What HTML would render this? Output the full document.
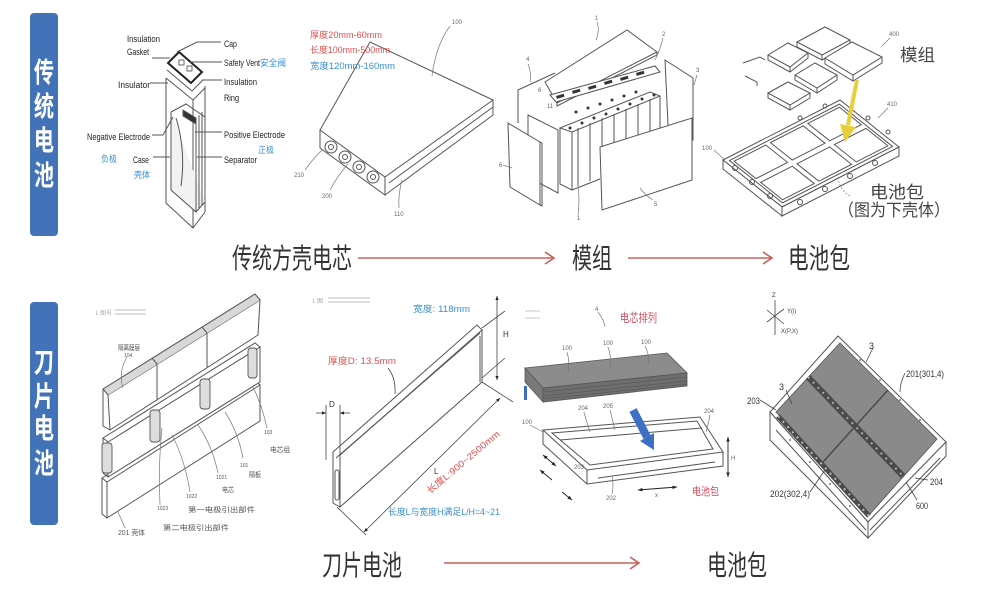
<!DOCTYPE html>
<html><head><meta charset="utf-8"><style>
html,body{margin:0;padding:0;background:#fff;width:985px;height:596px;overflow:hidden}
svg{display:block}
text{font-family:"Liberation Sans","Noto Sans CJK SC",sans-serif}
.ln{fill:none;stroke:#555;stroke-width:1}
.lt{fill:none;stroke:#777;stroke-width:0.7}
.s{font-size:6px;fill:#666}
.lab{font-size:9px;fill:#222}
.nss{vector-effect:non-scaling-stroke}
</style></head><body>
<svg width="985" height="596" viewBox="0 0 985 596" xmlns="http://www.w3.org/2000/svg">
<defs>
<marker id="a" viewBox="0 0 10 10" refX="10" refY="5" markerWidth="5" markerHeight="5" orient="auto-start-reverse"><path d="M0,1 L10,5 L0,9 z" fill="#222"/></marker>
</defs>
<rect width="985" height="596" fill="#fff"/>

<!-- Side labels -->
<rect x="30" y="13" width="28" height="223" rx="4" fill="#4272b8"/>
<g transform="translate(44,0) scale(0.72,1)" fill="#fff" font-size="28" font-weight="bold" text-anchor="middle">
<text x="0" y="82">传</text><text x="0" y="116">统</text><text x="0" y="150">电</text><text x="0" y="185">池</text>
</g>
<rect x="30" y="302" width="28" height="223" rx="4" fill="#4272b8"/>
<g transform="translate(44,0) scale(0.72,1)" fill="#fff" font-size="28" font-weight="bold" text-anchor="middle">
<text x="0" y="372">刀</text><text x="0" y="406">片</text><text x="0" y="438">电</text><text x="0" y="473">池</text>
</g>

<!-- Captions -->
<g font-size="28" fill="#333">
<text x="232" y="268" textLength="120" lengthAdjust="spacingAndGlyphs">传统方壳电芯</text>
<text x="572" y="268" textLength="40" lengthAdjust="spacingAndGlyphs">模组</text>
<text x="788" y="268" textLength="62" lengthAdjust="spacingAndGlyphs">电池包</text>
<text x="322" y="575" textLength="80" lengthAdjust="spacingAndGlyphs">刀片电池</text>
<text x="707" y="575" textLength="60" lengthAdjust="spacingAndGlyphs">电池包</text>
</g>
<g stroke="#c9605c" stroke-width="1.6" fill="none">
<path d="M358,258 L553,258 M545,252 L554,258 L545,264"/>
<path d="M628,258 L771,258 M763,252 L772,258 L763,264"/>
<path d="M444,563 L638,563 M630,557 L639,563 L630,569"/>
</g>

<!-- Drawing 1: prismatic cell exploded -->
<g class="ln">
<path d="M166,78 L166,203 L193,228 L205,212 L205,86" fill="#fff"/>
<path d="M193,100 L193,228"/>
<path d="M166,78 L193,100 L205,88"/>
<path d="M167,70 L192,91 L203,80"/>
<path d="M171,112 L171,190 L196,212 L205,202" fill="#f2f2f2"/>
<path d="M171,112 L186,104 L205,117"/>
<path d="M196,118 L196,212 M199,115 L199,208 M202,112 L202,205"/>
<path d="M176,118 Q186,150 181,186"/>
<path d="M183,110 L196,118 L196,124 L183,116 Z" fill="#333"/>
</g>
<polygon points="168,63 179,52 202,72 191,83" fill="#fff" stroke="#222" stroke-width="2"/>
<rect x="179" y="60" width="5" height="5" fill="none" stroke="#444" stroke-width="0.8"/>
<rect x="187" y="66" width="5" height="5" fill="none" stroke="#444" stroke-width="0.8"/>
<g class="ln" stroke="#333">
<path d="M152,58 L170,58"/>
<path d="M177,52 L197,42 L221,42"/>
<path d="M190,62 L222,62"/>
<path d="M202,80 L222,80"/>
<path d="M150,83 L168,83"/>
<path d="M152,135 L163,135 L173,117"/>
<path d="M153,157 L170,157"/>
<path d="M195,132 L222,132"/>
<path d="M197,157 L222,157"/>
</g>
<g class="lab">
<text x="127" y="42" textLength="33" lengthAdjust="spacingAndGlyphs">Insulation</text>
<text x="127" y="55" textLength="22" lengthAdjust="spacingAndGlyphs">Gasket</text>
<text x="224" y="47" textLength="13" lengthAdjust="spacingAndGlyphs">Cap</text>
<text x="224" y="66" textLength="36" lengthAdjust="spacingAndGlyphs">Safety Vent</text>
<text x="224" y="85" textLength="33" lengthAdjust="spacingAndGlyphs">Insulation</text>
<text x="224" y="101" textLength="15" lengthAdjust="spacingAndGlyphs">Ring</text>
<text x="118" y="88" textLength="32" lengthAdjust="spacingAndGlyphs">Insulator</text>
<text x="87" y="140" textLength="63" lengthAdjust="spacingAndGlyphs">Negative Electrode</text>
<text x="133" y="163" textLength="16" lengthAdjust="spacingAndGlyphs">Case</text>
<text x="224" y="138" textLength="61" lengthAdjust="spacingAndGlyphs">Positive Electrode</text>
<text x="224" y="163" textLength="33" lengthAdjust="spacingAndGlyphs">Separator</text>
</g>
<g font-size="9" fill="#3a8fd0">
<text x="260" y="66" textLength="26" lengthAdjust="spacingAndGlyphs">安全阀</text>
<text x="101" y="162" textLength="16" lengthAdjust="spacingAndGlyphs">负极</text>
<text x="134" y="178" textLength="16" lengthAdjust="spacingAndGlyphs">壳体</text>
<text x="258" y="153" textLength="16" lengthAdjust="spacingAndGlyphs">正极</text>
</g>

<!-- Drawing 2: prismatic cell 3D -->
<g class="ln">
<path d="M320,130 L370,42 L493,100 L385,177 Z" fill="#fff"/>
<path d="M320,130 L320,148 L385,195 L385,177"/>
<path d="M385,195 L493,115 L493,100"/>
<path d="M389,183 L493,107"/>
<circle cx="331" cy="147" r="6"/><circle cx="345" cy="157" r="6"/><circle cx="359" cy="167" r="6"/><circle cx="373" cy="177" r="6"/>
<circle cx="331" cy="147" r="2.5"/><circle cx="345" cy="157" r="2.5"/><circle cx="359" cy="167" r="2.5"/><circle cx="373" cy="177" r="2.5"/>
</g>
<g class="lt">
<path d="M450,26 Q436,45 432,76"/>
<path d="M305,170 Q312,160 322,150"/>
<path d="M330,190 Q338,175 348,164"/>
<path d="M399,208 Q398,195 402,180"/>
</g>
<g class="s">
<text x="452" y="24">100</text><text x="294" y="177">210</text><text x="322" y="198">200</text><text x="394" y="216">110</text>
</g>
<g font-size="9">
<text x="310" y="38" fill="#e05050" textLength="72" lengthAdjust="spacingAndGlyphs">厚度20mm-60mm</text>
<text x="310" y="53" fill="#e05050" textLength="80" lengthAdjust="spacingAndGlyphs">长度100mm-500mm</text>
<text x="310" y="69" fill="#3a8fd0" textLength="85" lengthAdjust="spacingAndGlyphs">宽度120mm-160mm</text>
</g>

<!-- Drawing 3: module exploded -->
<g class="ln">
<!-- back left plate -->
<path d="M518,90 L555,73 M518,90 L518,123"/>
<!-- right back plate -->
<path d="M665,60 L693,78 L693,140 L668,125 Z" fill="#fff"/>
<!-- top plate -->
<path d="M545,82 L627,30 L657,52 L557,103 Z" fill="#fff"/>
<path d="M557,103 L557,106 L657,55 L657,52"/>
<!-- bus bar row -->
<path d="M550,95 L655,66 L660,72 L556,102 Z" fill="#fff"/>
<!-- cells -->
<path d="M560,128 L572,132 L660,96 L650,92 Z" fill="#fff"/>
<path d="M560,128 L560,184 L572,190"/>
<path d="M572,132 L572,190 L600,179"/>
<path d="M578,128 L578,186 M590,123 L590,181 M602,118 L602,146 M614,114 L614,143 M626,109 L626,139 M638,104 L638,135 M650,99 L650,131 M660,96 L660,128"/>
</g>
<g fill="#333">
<rect x="556" y="96" width="8" height="3" transform="rotate(-16 556 96)"/>
<rect x="572" y="91" width="8" height="3" transform="rotate(-16 572 91)"/>
<rect x="588" y="87" width="8" height="3" transform="rotate(-16 588 87)"/>
<rect x="604" y="82" width="8" height="3" transform="rotate(-16 604 82)"/>
<rect x="620" y="78" width="8" height="3" transform="rotate(-16 620 78)"/>
<rect x="636" y="73" width="8" height="3" transform="rotate(-16 636 73)"/>
<circle cx="570" cy="128" r="1.5"/><circle cx="582" cy="123" r="1.5"/><circle cx="594" cy="118" r="1.5"/><circle cx="606" cy="114" r="1.5"/><circle cx="618" cy="109" r="1.5"/><circle cx="630" cy="104" r="1.5"/><circle cx="642" cy="99" r="1.5"/><circle cx="654" cy="95" r="1.5"/>
<circle cx="576" cy="112" r="1.5"/><circle cx="588" cy="108" r="1.5"/><circle cx="600" cy="104" r="1.5"/><circle cx="612" cy="100" r="1.5"/><circle cx="624" cy="96" r="1.5"/><circle cx="636" cy="92" r="1.5"/>
</g>
<g class="ln">
<!-- left end plates -->
<path d="M528,115 L558,130 L558,193 L528,177 Z" fill="#fff"/>
<path d="M508,123 L540,142 L540,205 L510,187 Z" fill="#fff"/>
<path d="M540,142 L542,143 L542,206 L540,205"/>
<!-- front side plate -->
<path d="M600,147 L692,118 L692,180 L602,210 Z" fill="#fff"/>
</g>
<g class="lt">
<path d="M597,22 Q600,30 596,40"/><path d="M663,38 Q660,50 655,60"/><path d="M528,64 Q532,75 530,82"/>
<path d="M503,165 L512,168"/><path d="M653,200 Q645,195 640,188"/><path d="M578,215 Q580,200 578,185"/><path d="M697,75 L694,85"/>
</g>
<g class="s">
<text x="595" y="20">1</text><text x="662" y="36">2</text><text x="696" y="72">3</text><text x="526" y="61">4</text>
<text x="499" y="167">6</text><text x="654" y="206">5</text><text x="577" y="220">1</text><text x="547" y="108">11</text><text x="538" y="92">6</text>
</g>

<!-- Drawing 4: pack with modules -->
<g class="ln">
<path d="M743,63 L760,57 L765,60 M745,76 L757,82 L757,86"/>
<path d="M797,42 L825,27 L850,40 L822,55 Z" fill="#fff"/><path d="M797,42 L797,47 L822,60 L850,45 L850,40 M822,55 L822,60"/>
<path d="M825,58 L852,42 L882,57 L853,75 Z" fill="#fff"/><path d="M825,58 L825,64 L853,81 L882,63 L882,57 M853,75 L853,81"/>
<path d="M768,55 L788,43 L808,53 L790,67 Z" fill="#fff"/><path d="M768,55 L768,60 L790,72 L808,58 L808,53 M790,67 L790,72"/>
<path d="M795,75 L815,63 L837,75 L817,88 Z" fill="#fff"/><path d="M795,75 L795,80 L817,93 L837,80 L837,75 M817,88 L817,93"/>
<path d="M768,93 L788,82 L810,93 L790,105 Z" fill="#fff"/><path d="M768,93 L768,98 L790,110 L810,98 L810,93 M790,105 L790,110"/>
</g>
<g transform="matrix(117,-60,59,47,723,160)" fill="#fff" stroke="#555" stroke-width="1">
<rect class="nss" x="0" y="0" width="1" height="1"/>
<rect class="nss" x="0.03" y="0.05" width="0.94" height="0.9"/>
<rect class="nss" x="0.05" y="0.09" width="0.27" height="0.37"/>
<rect class="nss" x="0.36" y="0.09" width="0.28" height="0.37"/>
<rect class="nss" x="0.68" y="0.09" width="0.27" height="0.37"/>
<rect class="nss" x="0.05" y="0.54" width="0.27" height="0.37"/>
<rect class="nss" x="0.36" y="0.54" width="0.28" height="0.37"/>
<rect class="nss" x="0.68" y="0.54" width="0.27" height="0.37"/>
</g>
<g class="ln">
<path d="M723,160 L782,207 L782,216 L723,169 Z" fill="#fff"/>
<path d="M782,207 L899,147 L899,156 L782,216 Z" fill="#fff"/>
<circle cx="735" cy="168" r="2.5"/><circle cx="752" cy="182" r="2.5"/><circle cx="770" cy="196" r="2.5"/>
<circle cx="800" cy="202" r="2.5"/><circle cx="825" cy="189" r="2.5"/><circle cx="850" cy="176" r="2.5"/><circle cx="875" cy="163" r="2.5"/>
<circle cx="800" cy="118" r="2" /><circle cx="825" cy="106" r="2"/><circle cx="868" cy="118" r="2"/><circle cx="888" cy="132" r="2"/>
</g>
<path d="M857,80 L848,125" stroke="#e6cf3a" stroke-width="4"/>
<polygon points="856,127 840,124 845,142" fill="#e6cf3a"/>
<g class="lt"><path d="M882,46 L890,38"/><path d="M878,118 L888,108"/><path d="M714,150 L725,160"/><path d="M850,196 Q840,190 838,178" stroke-dasharray="2 1.5"/></g>
<g class="s"><text x="889" y="36">400</text><text x="887" y="106">410</text><text x="702" y="150">100</text></g>
<g font-size="17" fill="#444">
<text x="900" y="61" textLength="35" lengthAdjust="spacingAndGlyphs">模组</text>
<text x="870" y="198" textLength="54" lengthAdjust="spacingAndGlyphs">电池包</text>
<text x="838" y="216" textLength="112" lengthAdjust="spacingAndGlyphs">（图为下壳体）</text>
</g>

<!-- Drawing 5: blade stack -->
<g fill="#aaa" font-size="6"><text x="95" y="315">1 图号</text></g>
<path d="M115,310 L146,310 M115,314 L146,314" stroke="#bbb" stroke-width="1"/>
<g class="ln">
<!-- bottom blade -->
<path d="M107,482 L260,385 L260,421 L107,518 Z" fill="#fff"/>
<path d="M107,482 L102,478 L255,381 L260,385"/>
<path d="M102,478 L102,514 L107,518"/>
<!-- middle blade -->
<path d="M108,442 L260,347 L260,382 L108,477 Z" fill="#fff"/>
<path d="M108,442 L103,438 L255,343 L260,347"/>
<path d="M103,438 L103,473 L108,477"/>
<!-- top blade -->
<path d="M108,395 L260,300 L258,335 L110,430 Z" fill="#fff"/>
<path d="M108,395 L103,389 L255,294 L260,300" fill="#d8d8d8"/>
<path d="M103,389 L103,426 L110,430"/>
<path d="M157,364 L157,399 M207,333 L207,367"/>
<path d="M157,364 L152,358 M207,333 L202,327"/>
</g>
<g fill="#ddd" stroke="#555" stroke-width="0.9">
<rect x="102" y="443" width="10" height="30" rx="3"/>
<rect x="150" y="410" width="10" height="32" rx="3"/>
<rect x="200" y="379" width="10" height="30" rx="3"/>
<rect x="248" y="348" width="9" height="30" rx="3"/>
</g>
<g class="lt">
<path d="M127,357 Q118,372 123,388"/>
<path d="M267,428 Q262,405 253,387"/>
<path d="M243,458 Q238,432 225,412"/>
<path d="M218,473 Q212,445 198,425"/>
<path d="M190,492 Q185,460 172,435"/>
<path d="M160,505 Q158,465 162,428"/>
<path d="M125,528 L118,512"/>
</g>
<g font-size="7" fill="#555">
<text x="118" y="350" textLength="22" lengthAdjust="spacingAndGlyphs">隔离膜层</text>
<text x="124" y="357" font-size="5">104</text>
<text x="264" y="434" font-size="5">103</text>
<text x="270" y="452" textLength="20" lengthAdjust="spacingAndGlyphs">电芯组</text>
<text x="240" y="467" font-size="5">101</text>
<text x="249" y="477" textLength="12" lengthAdjust="spacingAndGlyphs">隔板</text>
<text x="216" y="479" font-size="5">1021</text>
<text x="222" y="492" textLength="12" lengthAdjust="spacingAndGlyphs">电芯</text>
<text x="186" y="498" font-size="5">1022</text>
<text x="188" y="512" textLength="67" lengthAdjust="spacingAndGlyphs">第一电极引出部件</text>
<text x="157" y="510" font-size="5">1023</text>
<text x="163" y="530" textLength="66" lengthAdjust="spacingAndGlyphs">第二电极引出部件</text>
<text x="118" y="535" textLength="27" lengthAdjust="spacingAndGlyphs">201 壳体</text>
</g>

<!-- Drawing 6: single blade dims -->
<g fill="#aaa" font-size="6"><text x="312" y="303">1 图</text></g>
<path d="M328,298 L370,298 M328,302 L370,302" stroke="#bbb" stroke-width="1"/>
<g class="ln">
<path d="M340,455 L482,330 L482,382 L340,507 Z" fill="#fff"/>
<path d="M333,452 L477,325 L482,330"/>
<path d="M336,458 L480,333"/>
<path d="M333,452 L333,503 L340,507"/>
<rect x="335" y="470" width="4" height="30" rx="2"/>
<path d="M480,336 L480,382"/>
</g>
<g stroke="#444" stroke-width="0.8" fill="none">
<path d="M497,296 L497,380" marker-start="url(#a)" marker-end="url(#a)"/>
<path d="M482,328 L505,311 M482,378 L505,358"/>
<path d="M316,413 L326,413" marker-end="url(#a)"/><path d="M350,413 L340,413" marker-end="url(#a)"/>
<path d="M326,405 L326,460 M340,405 L340,455"/>
<path d="M364,532 L500,398" marker-start="url(#a)" marker-end="url(#a)"/>
<path d="M337,507 L366,535 M482,382 L513,402"/>
<path d="M388,368 Q396,378 395,394"/>
</g>
<g font-size="8" fill="#333"><text x="503" y="337">H</text><text x="329" y="407">D</text><text x="434" y="474">L</text></g>
<g font-size="9">
<text x="328" y="364" fill="#e05050" textLength="68" lengthAdjust="spacingAndGlyphs">厚度D: 13.5mm</text>
<text x="413" y="312" fill="#3a8fd0" textLength="57" lengthAdjust="spacingAndGlyphs">宽度: 118mm</text>
<text x="430" y="494" fill="#e05050" transform="rotate(-40 430 494)" textLength="92" lengthAdjust="spacingAndGlyphs">长度L:900~2500mm</text>
<text x="388" y="515" fill="#3a8fd0" textLength="112" lengthAdjust="spacingAndGlyphs">长度L与宽度H满足L/H=4~21</text>
</g>

<!-- Drawing 7: blade pack exploded -->
<g fill="#bbb" font-size="5"><text x="525" y="313">=====</text><text x="525" y="320">=====</text></g>
<text x="620" y="322" font-size="12" fill="#d05060" textLength="37" lengthAdjust="spacingAndGlyphs">电芯排列</text>
<path d="M598,312 Q604,320 605,327" class="lt"/>
<text x="595" y="311" class="s">4</text>
<polygon points="525,368 667,353 687,373 543,388" fill="#8c8c8c" stroke="#555" stroke-width="0.8"/>
<polygon points="543,388 687,373 687,386 543,402" fill="#6e6e6e" stroke="#555" stroke-width="0.8"/>
<polygon points="525,368 543,388 543,402 525,382" fill="#7a7a7a" stroke="#555" stroke-width="0.8"/>
<path d="M543,392 L687,377 M543,396 L687,381 M543,399 L687,384" stroke="#555" stroke-width="0.6"/>
<g class="lt"><path d="M567,352 Q570,362 568,372"/><path d="M608,347 Q612,358 610,368"/><path d="M645,346 Q650,356 648,364"/></g>
<g class="s"><text x="562" y="350">100</text><text x="603" y="345">100</text><text x="641" y="344">100</text></g>
<rect x="524" y="386" width="3" height="14" fill="#3d6fc6"/>
<g class="ln">
<path d="M543,430 L700,417 L723,452 L587,470 Z" fill="#fff"/>
<path d="M552,433 L697,421 L713,449 L590,465 Z"/>
<path d="M560,440 L702,428"/>
<path d="M543,430 L543,444 L587,484 L723,466 L723,452 M587,470 L587,484"/>
<path d="M598,478 L715,462"/>
</g>
<path d="M633,410 L647,437" stroke="#3d6fc6" stroke-width="8"/>
<polygon points="654,433 640,441 654,450" fill="#3d6fc6"/>
<g stroke="#222" stroke-width="0.9" fill="none">
<path d="M543,455 L556,466" marker-start="url(#a)" marker-end="url(#a)"/>
<path d="M540,470 L552,480" marker-start="url(#a)"/>
<path d="M562,492 L572,500" marker-end="url(#a)"/>
<path d="M638,490 L677,487" marker-start="url(#a)" marker-end="url(#a)"/>
<path d="M728,437 L728,477" marker-start="url(#a)" marker-end="url(#a)"/>
</g>
<g class="lt"><path d="M530,425 L543,432"/><path d="M584,412 Q586,420 590,432"/><path d="M610,410 Q612,418 615,430"/><path d="M710,415 Q708,425 706,432"/><path d="M612,494 Q614,485 612,476"/></g>
<g class="s"><text x="522" y="424">100</text><text x="578" y="410">204</text><text x="603" y="408">205</text><text x="704" y="413">204</text><text x="606" y="500">202</text><text x="574" y="469">203</text><text x="731" y="460">H</text><text x="655" y="497">x</text></g>
<text x="692" y="495" font-size="11" fill="#d05060" textLength="27" lengthAdjust="spacingAndGlyphs">电池包</text>

<!-- Drawing 8: blade pack assembled -->
<g class="ln">
<path d="M770,412 L838,336 L946,442 L868,522 Z" fill="#fff"/>
<path d="M770,412 L868,522 L868,538 L770,440 Z" fill="#fff"/>
<path d="M868,522 L946,442 L946,456 L868,538 Z" fill="#fff"/>
<path d="M776,430 L866,530 M870,530 L940,458"/>
</g>
<polygon points="776,412 840,343 937,439 870,514" fill="#8a8a8a" stroke="#555" stroke-width="0.8"/>
<path d="M778,416 L869,516" stroke="#4a4a4a" stroke-width="5"/>
<path d="M778,416 L869,516" stroke="#bbb" stroke-width="2" stroke-dasharray="2 5"/>
<path d="M808,377 L903,476" stroke="#4a4a4a" stroke-width="6"/>
<path d="M808,377 L903,476" stroke="#aaa" stroke-width="2" stroke-dasharray="2 5"/>
<path d="M888,390 L823,462" stroke="#4a4a4a" stroke-width="1.5"/>
<g fill="#777"><circle cx="790" cy="440" r="1"/><circle cx="810" cy="462" r="1"/><circle cx="830" cy="484" r="1"/><circle cx="850" cy="506" r="1"/><circle cx="900" cy="400" r="1"/><circle cx="920" cy="420" r="1"/><circle cx="880" cy="380" r="1"/><circle cx="860" cy="360" r="1"/></g>
<g stroke="#444" stroke-width="0.8" fill="none">
<path d="M775,300 L775,335 M767,322 L784,309 M767,310 L784,324"/>
<path d="M760,400 L776,410"/>
<path d="M905,373 Q900,383 900,392"/>
<path d="M928,480 L915,478"/>
<path d="M917,500 L906,482"/>
<path d="M810,492 L825,470"/>
<path d="M873,348 L866,362"/>
<path d="M786,390 L792,404"/>
</g>
<g font-size="6" fill="#444"><text x="772" y="297">Z</text><text x="787" y="313">Y(i)</text><text x="781" y="333">X(P,X)</text></g>
<g font-size="9" fill="#333">
<text x="869" y="349">3</text><text x="779" y="390">3</text>
<text x="906" y="377" textLength="38" lengthAdjust="spacingAndGlyphs">201(301,4)</text>
<text x="747" y="404" textLength="13" lengthAdjust="spacingAndGlyphs">203</text>
<text x="930" y="485" textLength="13" lengthAdjust="spacingAndGlyphs">204</text>
<text x="916" y="509" textLength="12" lengthAdjust="spacingAndGlyphs">600</text>
<text x="770" y="497" textLength="40" lengthAdjust="spacingAndGlyphs">202(302,4)</text>
</g>
</svg>
</body></html>
